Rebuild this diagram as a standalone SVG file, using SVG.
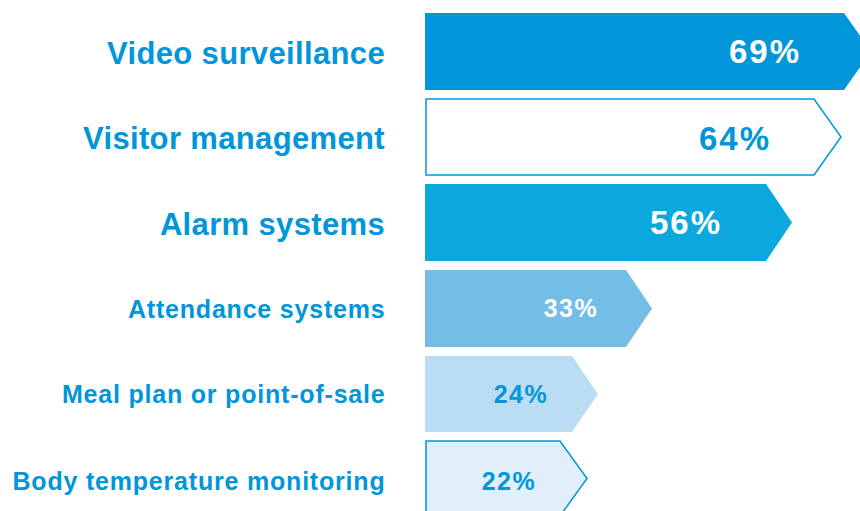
<svg xmlns="http://www.w3.org/2000/svg" width="860" height="511" viewBox="0 0 860 511">
<style>
.lbl{font-family:"Liberation Sans",Arial,sans-serif;font-weight:bold;fill:#0096D9;text-anchor:end}
.big{font-size:31px;letter-spacing:0.35px}
.sm{font-size:25px;letter-spacing:0.8px}
.val{font-family:"Liberation Sans",Arial,sans-serif;font-weight:bold;text-anchor:middle}
.vbig{font-size:33px;letter-spacing:2px}
.vsm{font-size:25px;letter-spacing:1.5px}
.w{fill:#FFFFFF}
.b{fill:#0096D9}
</style>
<rect width="860" height="511" fill="#FFFFFF"/>
<g id="bar-video">
<polygon points="425,13 844,13 871,51.5 844,90 425,90" fill="#0096D9"/>
<text class="lbl big" x="385" y="64">Video surveillance</text>
<text class="val vbig w" x="765" y="63">69%</text>
</g>
<g id="bar-visitor">
<polygon points="426,99 814,99 841,137 814,175 426,175" fill="#FFFFFF" stroke="#0096D9" stroke-width="1.5"/>
<text class="lbl big" x="385" y="149">Visitor management</text>
<text class="val vbig b" x="735" y="150">64%</text>
</g>
<g id="bar-alarm">
<polygon points="425,184 766,184 792,222.5 766,261 425,261" fill="#0BA8DE"/>
<text class="lbl big" x="385" y="235">Alarm systems</text>
<text class="val vbig w" x="686" y="234">56%</text>
</g>
<g id="bar-attendance">
<polygon points="425,270 626,270 652,308.5 626,347 425,347" fill="#74BDE7"/>
<text class="lbl sm" x="385.5" y="318">Attendance systems</text>
<text class="val vsm w" x="571" y="317">33%</text>
</g>
<g id="bar-meal">
<polygon points="425,356 572,356 598,394 572,432 425,432" fill="#BBDDF4"/>
<text class="lbl sm" x="385.5" y="403">Meal plan or point-of-sale</text>
<text class="val vsm b" x="521" y="403">24%</text>
</g>
<g id="bar-body">
<polygon points="426,441 560,441 587,478.5 560,516 426,516" fill="#E0EFFA" stroke="#0096D9" stroke-width="1.5"/>
<text class="lbl sm" x="385.5" y="490">Body temperature monitoring</text>
<text class="val vsm b" x="509" y="490">22%</text>
</g>
<g id="connectors"></g>
</svg>
